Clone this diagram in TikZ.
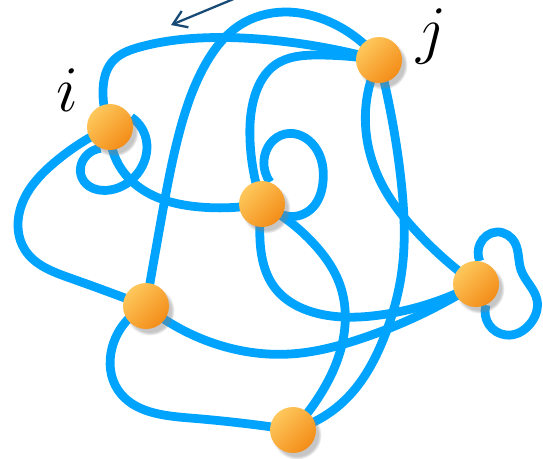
\documentclass[tikz,border=0pt]{standalone}
\usepackage{graphicx}
\usetikzlibrary{arrows.meta,shadows,backgrounds,hobby}
\definecolor{edgeblue}{RGB}{0,164,255}
\definecolor{balllight}{RGB}{254,200,92}
\definecolor{balldark}{RGB}{243,140,24}
\definecolor{arrownavy}{RGB}{24,74,118}
\begin{document}
\begin{tikzpicture}[x=0.02cm,y=-0.02cm,
  vertex/.style={circle, minimum size=0.92cm, inner sep=0pt,
    top color=balllight, bottom color=balldark, shading angle=45,
    circular drop shadow={shadow xshift=2pt, shadow yshift=-2.5pt, opacity=0.45, shadow scale=1.08}},
  link/.style={draw=edgeblue, line width=5pt},
  lab/.style={inner sep=0pt, font=\Huge},
  pointer/.style={draw=arrownavy, line width=1.3pt, line cap=round,
    -{Straight Barb[length=7.5pt,width=10pt,line width=1.3pt]}}]
\useasboundingbox (0,0) rectangle (543,458);
\clip (0,0) rectangle (543,458);

% vertices
\node[vertex] (i) at (110,127) {};
\node[vertex] (j) at (379,60) {};
\node[vertex] (c) at (262,204) {};
\node[vertex] (l) at (146,306) {};
\node[vertex] (r) at (476,284) {};
\node[vertex] (b) at (293,430) {};

% labels
\node[lab] (ilab) at (67,90) {\scalebox{1.49}{$i$}};
\node[lab] (jlab) at (432,36) {\scalebox{1.49}{$j$}};

% arrow
\coordinate (arrS) at (248,-7);
\coordinate (arrE) at (171,25);
\draw[pointer] (arrS) -- (arrE);

\begin{scope}[on background layer]
% i - j (top)
\draw[link] (i.center) to[curve through={(103,90) (112,62) (140,47) (200,38) (270,40)}] (j.center);
% j - l (arc over the top)
\draw[link] (j.center) to[curve through={(330,22) (285,12) (240,25) (205,65) (180,130) (162,215)}] (l.center);
% j - c
\draw[link] (j.center) to[curve through={(320,55) (275,65) (255,95) (250,140)}] (c.center);
% j - r
\draw[link] (j.center) to[curve through={(366,105) (368,145) (385,190) (415,230)}] (r.center);
% j - b
\draw[link] (j.center) to[curve through={(393,125) (402,190) (402,270) (385,335) (345,400)}] (b.center);
% i loop
\draw[link] (i.25) to[curve through={(145,135) (140,170) (110,190) (82,178) (88,154)}] (i.246);
% i - c
\draw[link] (i.center) to[curve through={(122,170) (150,194) (200,207)}] (c.center);
% i - l
\draw[link] (i.center) to[curve through={(55,162) (20,210) (25,250) (70,278)}] (l.center);
% c loop
\draw[link] (c.70) to[curve through={(264,160) (285,134) (315,147) (323,182) (310,210)}] (c.332);
% c - r
\draw[link] (c.center) to[curve through={(260,240) (275,288) (320,314) (380,315)}] (r.center);
% c - b
\draw[link] (c.center) to[curve through={(314,244) (340,285) (343,340) (320,395)}] (b.center);
% l - r
\draw[link] (l.center) to[curve through={(210,342) (290,354) (360,339)}] (r.center);
% l - b
\draw[link] (l.center) to[curve through={(112,348) (118,390) (190,418)}] (b.center);
% r loop
\draw[link] (r.81) to[curve through={(480,244) (497,232) (515,243) (521,270) (537,300) (530,324) (506,335)}] (r.295);
\end{scope}
\end{tikzpicture}
\end{document}
